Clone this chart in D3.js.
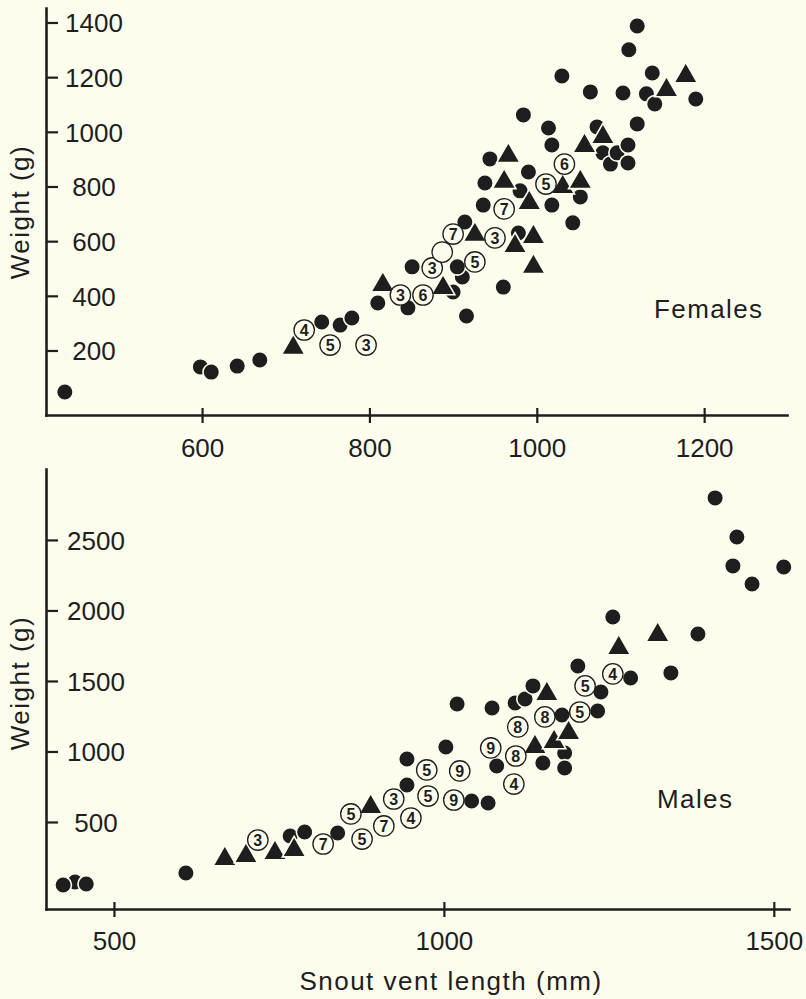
<!DOCTYPE html>
<html>
<head>
<meta charset="utf-8">
<script src="https://cdn.jsdelivr.net/npm/d3@7"></script>
<style>
  html, body { margin: 0; padding: 0; background: #fdfdee; }
  svg { display: block; }
  text { font-family: "Liberation Sans", Arial, Helvetica, sans-serif; fill: #1e1e1e; }
</style>
</head>
<body>
<svg id="chart" width="806" height="999"></svg>
<script>
// ---- Females: snout–vent length (mm) vs weight (g) ----
const femaleDotSVL = [598, 436, 611, 642, 669, 743, 765, 779, 810, 846, 851, 900, 911, 905, 916, 960, 914, 936, 938, 944, 978, 980, 990, 984, 1014, 1018, 1018, 1043, 1052, 1030, 1064, 1072, 1079, 1088, 1096, 1103, 1109, 1109, 1110, 1120, 1120, 1131, 1141, 1138, 1190];
const femaleDotWt  = [140, 48, 121, 143, 165, 304, 293, 319, 374, 356, 506, 414, 469, 506, 326, 432, 670, 732, 813, 901, 630, 784, 853, 1062, 1014, 952, 732, 667, 762, 1204, 1146, 1018, 923, 882, 923, 1142, 952, 886, 1300, 1387, 1029, 1139, 1102, 1215, 1120];

const femaleTriSVL = [709, 816, 888, 926, 961, 966, 974, 991, 996, 996, 1031, 1052, 1057, 1079, 1155, 1178];
const femaleTriWt  = [210, 440, 429, 623, 817, 912, 582, 740, 615, 506, 798, 817, 948, 981, 1153, 1204];

const femaleRingSVL = [722, 753, 796, 837, 864, 875, 887, 900, 926, 950, 961, 1011, 1033];
const femaleRingWt  = [275, 220, 220, 403, 403, 502, 560, 626, 524, 612, 718, 809, 882];
const femaleRingN   = ["4", "5", "3", "3", "6", "3", "", "7", "5", "3", "7", "5", "6"];

// ---- Males ----
const maleDotSVL = [441, 423, 458, 609, 767, 789, 839, 944, 944, 1003, 1020, 1042, 1067, 1073, 1080, 1108, 1123, 1135, 1150, 1179, 1183, 1183, 1203, 1233, 1238, 1256, 1283, 1344, 1385, 1411, 1444, 1438, 1515, 1467];
const maleDotWt  = [74, 53, 60, 138, 401, 429, 422, 762, 947, 1032, 1337, 649, 635, 1308, 897, 1344, 1372, 1465, 918, 1259, 989, 883, 1606, 1287, 1422, 1954, 1521, 1557, 1833, 2798, 2521, 2316, 2308, 2188];

const maleTriSVL = [668, 700, 744, 773, 889, 1138, 1156, 1167, 1189, 1265, 1324];
const maleTriWt  = [238, 259, 280, 301, 606, 1032, 1408, 1067, 1131, 1734, 1826];

const maleRingSVL = [718, 817, 859, 876, 909, 924, 950, 974, 1024, 976, 1015, 1071, 1106, 1109, 1112, 1153, 1206, 1214, 1256];
const maleRingWt  = [372, 344, 557, 379, 472, 663, 528, 869, 862, 684, 656, 1025, 769, 968, 1174, 1245, 1280, 1465, 1550];
const maleRingN   = ["3", "7", "5", "5", "7", "3", "4", "5", "9", "5", "9", "9", "4", "8", "8", "8", "5", "5", "4"];

// ---- Axis ticks ----
const femaleXTicks = [600, 800, 1000, 1200];
const femaleYTicks = [200, 400, 600, 800, 1000, 1200, 1400];
const maleXTicks = [500, 1000, 1500];
const maleYTicks = [500, 1000, 1500, 2000, 2500];

const INK = "#1e1e1e";
const BG = "#fdfdee";
const svg = d3.select("#chart");

function panel(cfg) {
  const x = d3.scaleLinear().domain(cfg.xDomain).range([46, cfg.right]);
  const y = d3.scaleLinear().domain(cfg.yDomain).range([cfg.bottom, cfg.top]);
  const g = svg.append("g");

  // y axis: ticks point inward, labels sit inside the frame
  const ya = g.append("g").attr("transform", "translate(46,0)")
    .call(d3.axisRight(y).tickValues(cfg.yTicks).tickSize(12).tickSizeOuter(0).tickFormat(d3.format("d")));
  ya.select(".domain").attr("stroke", INK).attr("stroke-width", 2.6);
  ya.selectAll(".tick line").attr("stroke", INK).attr("stroke-width", 2.2);
  ya.selectAll(".tick text")
    .attr("x", cfg.yLabelX - 46).attr("dy", "0.36em")
    .attr("text-anchor", "middle")
    .style("font-size", "26px").style("fill", INK);

  // x axis: ticks cross the line
  const xa = g.append("g").attr("transform", `translate(0,${cfg.bottom})`)
    .call(d3.axisBottom(x).tickValues(cfg.xTicks).tickSize(8).tickSizeOuter(0).tickFormat(d3.format("d")));
  xa.select(".domain").attr("stroke", INK).attr("stroke-width", 2.6);
  xa.selectAll(".tick line").attr("y1", -7).attr("y2", 8).attr("stroke", INK).attr("stroke-width", 2.2);
  xa.selectAll(".tick text")
    .attr("y", cfg.xLabelBase - cfg.bottom).attr("dy", 0)
    .style("font-size", "26px").style("fill", INK);
  g.selectAll(".domain").attr("stroke-linecap", "square");

  // y axis title
  g.append("text")
    .attr("transform", `translate(29,${cfg.yTitleY}) rotate(-90)`)
    .attr("text-anchor", "middle")
    .style("font-size", "26px").style("letter-spacing", "1.5px")
    .text("Weight  (g)");

  // panel label
  g.append("text").attr("x", cfg.nameX).attr("y", cfg.nameY)
    .style("font-size", "26px").style("letter-spacing", "1.4px")
    .text(cfg.name);

  // solid circles
  g.append("g").selectAll("circle")
    .data(d3.zip(cfg.dotX, cfg.dotY)).join("circle")
    .attr("cx", d => x(d[0])).attr("cy", d => y(d[1])).attr("r", 8.3)
    .attr("fill", INK).attr("stroke", BG).attr("stroke-width", 1.6);

  // solid triangles
  const tri = d3.symbol(d3.symbolTriangle, 240);
  g.append("g").selectAll("path")
    .data(d3.zip(cfg.triX, cfg.triY)).join("path")
    .attr("d", tri)
    .attr("transform", d => `translate(${x(d[0])},${y(d[1])})`)
    .attr("fill", INK).attr("stroke", BG).attr("stroke-width", 1.6);

  // open circles with counts
  const rings = g.append("g").selectAll("g")
    .data(d3.zip(cfg.ringX, cfg.ringY, cfg.ringN)).join("g")
    .attr("transform", d => `translate(${x(d[0])},${y(d[1])})`);
  rings.append("circle").attr("r", 10.2)
    .attr("fill", BG).attr("stroke", INK).attr("stroke-width", 1.3);
  rings.append("text")
    .attr("text-anchor", "middle").attr("dy", "0.37em")
    .style("font-size", "16px").style("font-weight", "bold")
    .text(d => d[2]);
}

panel({
  xDomain: [413.5, 1299], yDomain: [-36, 1453], right: 787, top: 8, bottom: 415,
  xTicks: femaleXTicks, yTicks: femaleYTicks, yLabelX: 94, xLabelBase: 457, yTitleY: 212,
  name: "Females", nameX: 654, nameY: 318,
  dotX: femaleDotSVL, dotY: femaleDotWt, triX: femaleTriSVL, triY: femaleTriWt,
  ringX: femaleRingSVL, ringY: femaleRingWt, ringN: femaleRingN
});

panel({
  xDomain: [397, 1523], yDomain: [-117, 3003], right: 789, top: 469, bottom: 909,
  xTicks: maleXTicks, yTicks: maleYTicks, yLabelX: 96, xLabelBase: 950, yTitleY: 683,
  name: "Males", nameX: 657, nameY: 808,
  dotX: maleDotSVL, dotY: maleDotWt, triX: maleTriSVL, triY: maleTriWt,
  ringX: maleRingSVL, ringY: maleRingWt, ringN: maleRingN
});

// shared x axis title
svg.append("text").attr("x", 451).attr("y", 990).attr("text-anchor", "middle")
  .style("font-size", "26px").style("letter-spacing", "1.5px")
  .text("Snout vent length (mm)");
</script>
</body>
</html>
